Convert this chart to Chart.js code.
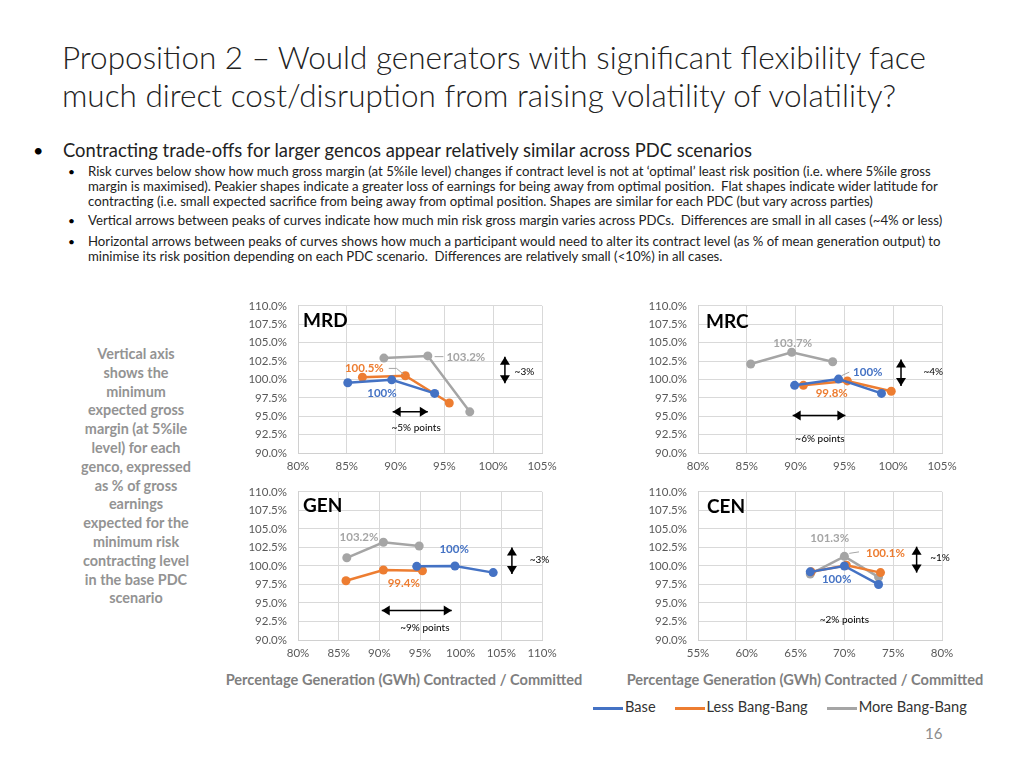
<!DOCTYPE html>
<html>
<head>
<meta charset="utf-8">
<script src="https://cdn.jsdelivr.net/npm/chart.js@4.4.1/dist/chart.umd.min.js"></script>
<style>
  body { margin: 0; width: 1024px; height: 768px; background: #fff; position: relative; overflow: hidden; font-family: Lato, "Open Sans", sans-serif; }
  .abs { position: absolute; white-space: nowrap; }
  #title { left: 62px; top: 38px; font-size: 31.5px; font-weight: 300; line-height: 38px; color: #222; }
  #b1 { left: 63px; top: 139px; font-size: 18.4px; color: #222; }
  .sub { left: 88px; font-size: 13.2px; line-height: 14.8px; color: #222; }
  #side { left: 56px; top: 345px; width: 160px; text-align: center; font-size: 14.4px; font-weight: bold; line-height: 18.8px; color: #939393; }
  .xt { top: 671px; font-size: 14.6px; font-weight: bold; color: #7f7f7f; text-align: center; width: 400px; }
  .ct { font-size: 19px; font-weight: bold; color: #000; }
  canvas { position: absolute; }
  #legend { left: 593px; top: 698px; font-size: 14.6px; color: #333; }
  #legend span.ln { display: inline-block; width: 30px; height: 3px; vertical-align: middle; margin-right: 2px; }
  #legend span.it { margin-right: 19px; }
  #pg { left: 925px; top: 724px; font-size: 15px; color: #8c8c8c; }
</style>
</head>
<body>
<div id="title" class="abs">Proposition 2 – Would generators with significant flexibility face<br>much direct cost/disruption from raising volatility of volatility?</div>
<div class="abs" style="left:33px;top:139px;font-size:18px;">•</div>
<div id="b1" class="abs">Contracting trade-offs for larger gencos appear relatively similar across PDC scenarios</div>
<div class="abs" style="left:68px;top:164px;font-size:12px;">•</div>
<div class="abs sub" style="top:164px;">Risk curves below show how much gross margin (at 5%ile level) changes if contract level is not at ‘optimal’ least risk position (i.e. where 5%ile gross<br>margin is maximised). Peakier shapes indicate a greater loss of earnings for being away from optimal position.&nbsp; Flat shapes indicate wider latitude for<br>contracting (i.e. small expected sacrifice from being away from optimal position. Shapes are similar for each PDC (but vary across parties)</div>
<div class="abs" style="left:68px;top:213px;font-size:12px;">•</div>
<div class="abs sub" style="top:213px;">Vertical arrows between peaks of curves indicate how much min risk gross margin varies across PDCs.&nbsp; Differences are small in all cases (~4% or less)</div>
<div class="abs" style="left:68px;top:234px;font-size:12px;">•</div>
<div class="abs sub" style="top:234px;">Horizontal arrows between peaks of curves shows how much a participant would need to alter its contract level (as % of mean generation output) to<br>minimise its risk position depending on each PDC scenario.&nbsp; Differences are relatively small (&lt;10%) in all cases.</div>

<div id="side" class="abs">Vertical axis<br>shows the<br>minimum<br>expected gross<br>margin (at 5%ile<br>level) for each<br>genco, expressed<br>as % of gross<br>earnings<br>expected for the<br>minimum risk<br>contracting level<br>in the base PDC<br>scenario</div>

<canvas id="cMRD"></canvas>
<canvas id="cMRC"></canvas>
<canvas id="cGEN"></canvas>
<canvas id="cCEN"></canvas>

<div class="abs ct" style="left:303px;top:308px;">MRD</div>
<div class="abs ct" style="left:706px;top:309px;">MRC</div>
<div class="abs ct" style="left:303px;top:493px;">GEN</div>
<div class="abs ct" style="left:707px;top:494px;">CEN</div>

<div class="abs xt" style="left:204px;">Percentage Generation (GWh) Contracted / Committed</div>
<div class="abs xt" style="left:605px;">Percentage Generation (GWh) Contracted / Committed</div>

<div id="legend" class="abs"><span class="ln" style="background:#4472C4"></span><span class="it">Base</span><span class="ln" style="background:#ED7D31"></span><span class="it">Less Bang-Bang</span><span class="ln" style="background:#A5A5A5"></span><span>More Bang-Bang</span></div>
<div id="pg" class="abs">16</div>

<script>
// series
const seriesNames = ['Base', 'Less Bang-Bang', 'More Bang-Bang'];
const seriesColors = ['#4472C4', '#ED7D31', '#A5A5A5'];

// MRD
const mrdBaseX = [85.1, 89.6, 94.0];
const mrdBaseY = [99.55, 99.95, 98.1];
const mrdLessX = [86.6, 91.0, 95.5];
const mrdLessY = [100.3, 100.5, 96.8];
const mrdMoreX = [88.8, 93.3, 97.6];
const mrdMoreY = [102.9, 103.2, 95.6];

// MRC
const mrcBaseX = [89.9, 94.4, 98.8];
const mrcBaseY = [99.2, 100.05, 98.1];
const mrcLessX = [90.8, 95.3, 99.8];
const mrcLessY = [99.2, 99.8, 98.4];
const mrcMoreX = [85.4, 89.6, 93.8];
const mrcMoreY = [102.1, 103.7, 102.4];

// GEN
const genBaseX = [94.6, 99.3, 104.0];
const genBaseY = [99.95, 100.0, 99.1];
const genLessX = [85.9, 90.5, 95.3];
const genLessY = [98.0, 99.45, 99.35];
const genMoreX = [86.0, 90.5, 94.9];
const genMoreY = [101.1, 103.2, 102.7];

// CEN
const cenBaseX = [66.5, 70.0, 73.5];
const cenBaseY = [99.2, 100.0, 97.5];
const cenLessX = [66.6, 70.2, 73.7];
const cenLessY = [99.2, 100.1, 99.1];
const cenMoreX = [66.5, 70.0, 73.5];
const cenMoreY = [98.9, 101.3, 98.5];

const yTicksMin = 90, yTicksMax = 110, yStep = 2.5;

function pts(xs, ys) {
    return xs.map((x, i) => ({ x: x, y: ys[i] }));
}

// draws the peak labels, arrows and notes in data coordinates
const notesPlugin = {
    id: 'notes',
    afterDatasetsDraw(chart) {
        const notes = chart.options.plugins.notes.items || [];
        const ctx = chart.ctx;
        const sx = chart.scales.x, sy = chart.scales.y;
        ctx.save();
        notes.forEach(n => {
            if (n.type === 'text') {
                ctx.font = (n.bold ? 'bold ' : '') + (n.size || 11.5) + 'px Lato, sans-serif';
                ctx.fillStyle = n.color || '#000';
                ctx.textAlign = 'center';
                ctx.textBaseline = 'middle';
                ctx.fillText(n.text, sx.getPixelForValue(n.x), sy.getPixelForValue(n.y));
            } else if (n.type === 'leader') {
                ctx.strokeStyle = '#a5a5a5';
                ctx.lineWidth = 1;
                ctx.beginPath();
                ctx.moveTo(sx.getPixelForValue(n.x1), sy.getPixelForValue(n.y1));
                ctx.lineTo(sx.getPixelForValue(n.x2), sy.getPixelForValue(n.y2));
                ctx.stroke();
            } else if (n.type === 'varrow' || n.type === 'harrow') {
                let x1, y1, x2, y2;
                if (n.type === 'varrow') {
                    x1 = x2 = sx.getPixelForValue(n.x);
                    y1 = sy.getPixelForValue(n.y1); y2 = sy.getPixelForValue(n.y2);
                } else {
                    y1 = y2 = sy.getPixelForValue(n.y);
                    x1 = sx.getPixelForValue(n.x1); x2 = sx.getPixelForValue(n.x2);
                }
                ctx.strokeStyle = '#000';
                ctx.fillStyle = '#000';
                ctx.lineWidth = 1.5;
                ctx.beginPath();
                ctx.moveTo(x1, y1);
                ctx.lineTo(x2, y2);
                ctx.stroke();
                const head = (ax, ay, dx, dy) => {
                    ctx.beginPath();
                    ctx.moveTo(ax, ay);
                    ctx.lineTo(ax - dx * 8 - dy * 5, ay - dy * 8 + dx * 5);
                    ctx.lineTo(ax - dx * 8 + dy * 5, ay - dy * 8 - dx * 5);
                    ctx.closePath();
                    ctx.fill();
                };
                const len = Math.hypot(x2 - x1, y2 - y1);
                const dx = (x2 - x1) / len, dy = (y2 - y1) / len;
                head(x2, y2, dx, dy);
                head(x1, y1, -dx, -dy);
            }
        });
        ctx.restore();
    }
};

// chart area in page pixels: left, right, top, bottom
function makeChart(id, area, xMin, xMax, sets, notes) {
    // topGap: the room Chart.js keeps above the plot for the top tick label
    const yAxisW = 58, padTop = 1, topGap = 17, padRight = 24, xAxisH = 26;
    const canvas = document.getElementById(id);
    const w = yAxisW + (area[1] - area[0]) + padRight;
    const h = topGap + (area[3] - area[2]) + xAxisH;
    canvas.style.left = (area[0] - yAxisW) + 'px';
    canvas.style.top = (area[2] - topGap) + 'px';
    canvas.style.width = w + 'px';
    canvas.style.height = h + 'px';
    canvas.width = w;
    canvas.height = h;

    const datasets = sets.map((s, i) => ({
        label: seriesNames[i],
        data: s,
        showLine: true,
        borderColor: seriesColors[i],
        backgroundColor: seriesColors[i],
        borderWidth: 2.5,
        pointRadius: 4.5,
        pointBorderWidth: 0,
        tension: 0
    }));

    new Chart(canvas.getContext('2d'), {
        type: 'scatter',
        data: { datasets: datasets },
        options: {
            responsive: false,
            animation: false,
            layout: { padding: { top: padTop, right: padRight, left: 0, bottom: 0 } },
            plugins: {
                legend: { display: false },
                tooltip: { enabled: false },
                notes: { items: notes }
            },
            scales: {
                x: {
                    type: 'linear', min: xMin, max: xMax,
                    ticks: { stepSize: 5, color: '#595959', font: { size: 11.5, family: 'Lato' }, padding: 6,
                        callback: v => v + '%' },
                    grid: { color: '#d9d9d9', drawTicks: false },
                    border: { color: '#d0d0d0' },
                    afterFit: s => { s.height = xAxisH; }
                },
                y: {
                    min: yTicksMin, max: yTicksMax,
                    ticks: { stepSize: yStep, color: '#595959', font: { size: 11.5, family: 'Lato' }, padding: 11,
                        callback: v => v.toFixed(1) + '%' },
                    grid: { color: '#d9d9d9', drawTicks: false },
                    border: { color: '#d0d0d0' },
                    afterFit: s => { s.width = yAxisW; }
                }
            }
        },
        plugins: [notesPlugin]
    });
}

makeChart('cMRD', [298, 542, 305, 453], 80, 105,
    [pts(mrdBaseX, mrdBaseY), pts(mrdLessX, mrdLessY), pts(mrdMoreX, mrdMoreY)],
    [
        { type: 'text', x: 97.2, y: 103.0, text: '103.2%', color: '#A5A5A5', bold: true },
        { type: 'leader', x1: 94.0, y1: 103.1, x2: 94.9, y2: 103.1 },
        { type: 'text', x: 86.8, y: 101.5, text: '100.5%', color: '#ED7D31', bold: true },
        { type: 'leader', x1: 89.3, y1: 101.5, x2: 90.1, y2: 101.5 },
        { type: 'leader', x1: 90.1, y1: 101.5, x2: 90.8, y2: 100.7 },
        { type: 'text', x: 88.6, y: 98.1, text: '100%', color: '#4472C4', bold: true },
        { type: 'varrow', x: 101.2, y1: 103.1, y2: 99.5 },
        { type: 'text', x: 103.2, y: 101.1, text: '~3%', size: 10 },
        { type: 'harrow', x1: 89.7, x2: 93.3, y: 95.6 },
        { type: 'text', x: 92.1, y: 93.4, text: '~5% points', size: 10 }
    ]);

makeChart('cMRC', [698, 942, 305, 453], 80, 105,
    [pts(mrcBaseX, mrcBaseY), pts(mrcLessX, mrcLessY), pts(mrcMoreX, mrcMoreY)],
    [
        { type: 'text', x: 89.7, y: 104.9, text: '103.7%', color: '#A5A5A5', bold: true },
        { type: 'text', x: 97.4, y: 100.95, text: '100%', color: '#4472C4', bold: true },
        { type: 'leader', x1: 94.7, y1: 100.5, x2: 95.5, y2: 101.0 },
        { type: 'text', x: 93.7, y: 98.1, text: '99.8%', color: '#ED7D31', bold: true },
        { type: 'varrow', x: 100.8, y1: 102.7, y2: 99.1 },
        { type: 'text', x: 104.1, y: 101.1, text: '~4%', size: 10 },
        { type: 'harrow', x1: 89.7, x2: 95.1, y: 95.1 },
        { type: 'text', x: 92.5, y: 91.9, text: '~6% points', size: 10 }
    ]);

makeChart('cGEN', [298, 542, 491, 640], 80, 110,
    [pts(genBaseX, genBaseY), pts(genLessX, genLessY), pts(genMoreX, genMoreY)],
    [
        { type: 'text', x: 87.5, y: 103.9, text: '103.2%', color: '#A5A5A5', bold: true },
        { type: 'text', x: 99.2, y: 102.3, text: '100%', color: '#4472C4', bold: true },
        { type: 'text', x: 93.0, y: 97.6, text: '99.4%', color: '#ED7D31', bold: true },
        { type: 'varrow', x: 106.3, y1: 102.5, y2: 98.9 },
        { type: 'text', x: 109.7, y: 100.9, text: '~3%', size: 10 },
        { type: 'harrow', x1: 90.3, x2: 98.9, y: 94.0 },
        { type: 'text', x: 95.6, y: 91.7, text: '~9% points', size: 10 }
    ]);

makeChart('cCEN', [698, 942, 491, 640], 55, 80,
    [pts(cenBaseX, cenBaseY), pts(cenLessX, cenLessY), pts(cenMoreX, cenMoreY)],
    [
        { type: 'text', x: 68.5, y: 103.8, text: '101.3%', color: '#A5A5A5', bold: true },
        { type: 'text', x: 74.2, y: 101.7, text: '100.1%', color: '#ED7D31', bold: true },
        { type: 'leader', x1: 70.5, y1: 101.7, x2: 71.5, y2: 101.9 },
        { type: 'text', x: 69.2, y: 98.2, text: '100%', color: '#4472C4', bold: true },
        { type: 'varrow', x: 77.4, y1: 102.6, y2: 99.1 },
        { type: 'text', x: 79.8, y: 101.1, text: '~1%', size: 10 },
        { type: 'text', x: 70.0, y: 92.75, text: '~2% points', size: 10 }
    ]);
</script>
</body>
</html>
